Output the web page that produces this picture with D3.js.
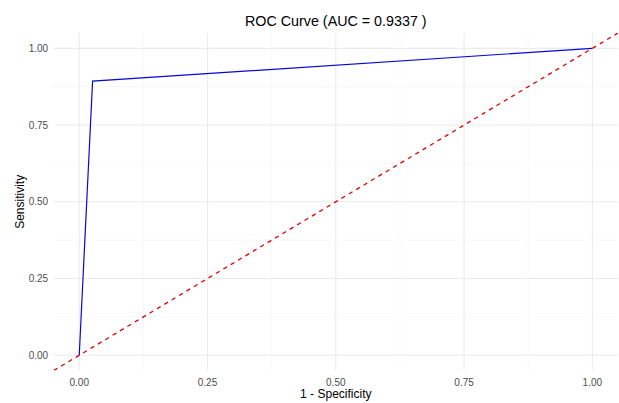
<!DOCTYPE html>
<html>
<head>
<meta charset="utf-8">
<script src="https://cdn.jsdelivr.net/npm/d3@7"></script>
<style>
  body { margin: 0; background: #fff; }
  text { font-family: "Liberation Sans", Arial, sans-serif; }
</style>
</head>
<body>
<script>
// ROC curve points: 1 - specificity vs sensitivity
var fpr = [0, 0.026, 1];
var tpr = [0, 0.893, 1];
var diagonal = [-0.05, 1.05];
var majorTicks = [0, 0.25, 0.5, 0.75, 1];
var minorTicks = [0.125, 0.375, 0.625, 0.875];
var auc = "0.9337";

function main() {
    var width = 619;
    var height = 403;

    var svg = d3.select("body")
                .append("svg")
                .attr("width", width)
                .attr("height", height);

    // panel area
    var panelLeft = 53.6, panelRight = 618, panelTop = 33, panelBottom = 370.6;

    var x = d3.scaleLinear().domain([-0.05, 1.05]).range([panelLeft, panelRight]);
    var y = d3.scaleLinear().domain([-0.05, 1.05]).range([panelBottom, panelTop]);

    svg.append("defs").append("clipPath")
       .attr("id", "panel")
       .append("rect")
       .attr("x", panelLeft).attr("y", panelTop)
       .attr("width", panelRight - panelLeft).attr("height", panelBottom - panelTop);

    var grid = svg.append("g");

    // minor grid
    grid.selectAll(".vminor").data(minorTicks).enter().append("line")
        .attr("x1", d => x(d)).attr("x2", d => x(d))
        .attr("y1", panelTop).attr("y2", panelBottom)
        .attr("stroke", "#f4f4f4").attr("stroke-width", 0.6);
    grid.selectAll(".hminor").data(minorTicks).enter().append("line")
        .attr("y1", d => y(d)).attr("y2", d => y(d))
        .attr("x1", panelLeft).attr("x2", panelRight)
        .attr("stroke", "#f4f4f4").attr("stroke-width", 0.6);

    // major grid
    grid.selectAll(".vmajor").data(majorTicks).enter().append("line")
        .attr("x1", d => x(d)).attr("x2", d => x(d))
        .attr("y1", panelTop).attr("y2", panelBottom)
        .attr("stroke", "#ebebeb").attr("stroke-width", 1.1);
    grid.selectAll(".hmajor").data(majorTicks).enter().append("line")
        .attr("y1", d => y(d)).attr("y2", d => y(d))
        .attr("x1", panelLeft).attr("x2", panelRight)
        .attr("stroke", "#ebebeb").attr("stroke-width", 1.1);

    // tick labels
    svg.selectAll(".xtick").data(majorTicks).enter().append("text")
       .attr("x", d => x(d))
       .attr("y", panelBottom + 15)
       .attr("text-anchor", "middle")
       .attr("font-size", "10px")
       .attr("fill", "#4d4d4d")
       .text(d => d3.format(".2f")(d));

    svg.selectAll(".ytick").data(majorTicks).enter().append("text")
       .attr("x", panelLeft - 5.5)
       .attr("y", d => y(d) + 3.5)
       .attr("text-anchor", "end")
       .attr("font-size", "10px")
       .attr("fill", "#4d4d4d")
       .text(d => d3.format(".2f")(d));

    var plot = svg.append("g").attr("clip-path", "url(#panel)");

    var line = d3.line()
                 .x(d => x(d[0]))
                 .y(d => y(d[1]));

    plot.append("path")
        .datum(fpr.map((d, i) => [d, tpr[i]]))
        .attr("d", line)
        .attr("fill", "none")
        .attr("stroke", "#0808d6")
        .attr("stroke-width", 1.2);

    plot.append("path")
        .datum(diagonal.map(d => [d, d]))
        .attr("d", line)
        .attr("fill", "none")
        .attr("stroke", "#e00000")
        .attr("stroke-width", 1.3)
        .attr("stroke-dasharray", "4.3,4.3");

    // titles
    svg.append("text")
       .attr("x", (panelLeft + panelRight) / 2)
       .attr("y", 26)
       .attr("text-anchor", "middle")
       .attr("font-size", "14.3px")
       .attr("fill", "#000")
       .text("ROC Curve (AUC = " + auc + " )");

    svg.append("text")
       .attr("x", (panelLeft + panelRight) / 2)
       .attr("y", 398)
       .attr("text-anchor", "middle")
       .attr("font-size", "12px")
       .attr("fill", "#000")
       .text("1 - Specificity");

    svg.append("text")
       .attr("transform", "translate(24," + (panelTop + panelBottom) / 2 + ") rotate(-90)")
       .attr("text-anchor", "middle")
       .attr("font-size", "12px")
       .attr("fill", "#000")
       .text("Sensitivity");
}

main();
</script>
</body>
</html>
